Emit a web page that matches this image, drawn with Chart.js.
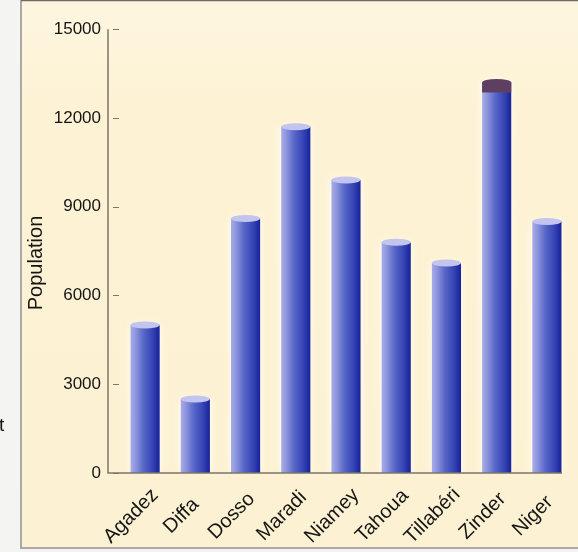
<!DOCTYPE html>
<html>
<head>
<meta charset="utf-8">
<script src="https://cdn.jsdelivr.net/npm/chart.js@4/dist/chart.umd.min.js"></script>
<style>
  html, body { margin: 0; padding: 0; background: #f4f4f2; }
  #wrap { width: 578px; height: 552px; position: relative; }
</style>
</head>
<body>
<div id="wrap"><canvas id="popChart"></canvas></div>
<script>
// regions and their population
const regions = ["Agadez", "Diffa", "Dosso", "Maradi", "Niamey", "Tahoua", "Tillabéri", "Zinder", "Niger"];
const population = [5000, 2500, 8600, 11700, 9900, 7800, 7100, 13200, 8500];
const yTicks = [0, 3000, 6000, 9000, 12000, 15000];
const yTitle = "Population";

// bar top caps (Zinder has the dark one)
const LIGHT_CAP = "#c3c5ee";
const capColors = [LIGHT_CAP, LIGHT_CAP, LIGHT_CAP, LIGHT_CAP, LIGHT_CAP, LIGHT_CAP, LIGHT_CAP, "#5e3f62", LIGHT_CAP];

const BAR_PCT = 0.58;
const AXIS_X = 108;
const FONT = "'Liberation Sans', Arial, sans-serif";
const TEXT = "#151515";

function barFill(ctx) {
  const chart = ctx.chart;
  const xs = chart.scales.x;
  if (!xs || !chart.chartArea) return "#4a58c0";
  const cx = xs.getPixelForValue(ctx.dataIndex);
  const w = (xs.width / regions.length) * BAR_PCT;
  const g = chart.ctx.createLinearGradient(cx - w / 2, 0, cx + w / 2, 0);
  g.addColorStop(0, "#a8acea");
  g.addColorStop(0.18, "#8c94dc");
  g.addColorStop(0.45, "#5766c8");
  g.addColorStop(0.75, "#3645b4");
  g.addColorStop(1, "#17229a");
  return g;
}

const panelPlugin = {
  id: "panel",
  beforeDraw(chart) {
    const c = chart.ctx;
    c.save();
    c.fillStyle = "#f4f4f2";
    c.fillRect(0, 0, chart.width, chart.height);
    const bg = c.createLinearGradient(0, 0, 0, 548);
    bg.addColorStop(0, "#fdf6df");
    bg.addColorStop(0.2, "#fdf2d4");
    bg.addColorStop(1, "#fcf1d2");
    c.fillStyle = bg;
    c.fillRect(21, 1, chart.width - 21, 547);
    c.strokeStyle = "#a9a9a6";
    c.lineWidth = 2;
    c.beginPath();
    c.moveTo(21, 0); c.lineTo(21, 548); c.lineTo(chart.width, 548);
    c.stroke();
    c.strokeStyle = "#6d6a62";
    c.lineWidth = 1.5;
    c.beginPath();
    c.moveTo(21, 0.5); c.lineTo(chart.width, 0.5);
    c.stroke();
    c.restore();
  },
  beforeDatasetsDraw(chart) {
    const c = chart.ctx;
    c.save();
    c.shadowColor = "rgba(255,255,250,0.95)";
    c.shadowBlur = 8;
  },
  afterDatasetsDraw(chart) {
    const c = chart.ctx;
    c.restore();
    // caps on top of the bars
    const meta = chart.getDatasetMeta(0);
    meta.data.forEach((bar, i) => {
      const w = bar.width;
      c.save();
      if (capColors[i] !== LIGHT_CAP) {
        c.fillStyle = capColors[i];
        c.fillRect(bar.x - w / 2, bar.y, w, 10);
      }
      c.fillStyle = capColors[i];
      c.beginPath();
      c.ellipse(bar.x, bar.y, w / 2, 3.5, 0, 0, Math.PI * 2);
      c.fill();
      c.restore();
    });
  },
  afterDraw(chart) {
    const c = chart.ctx;
    const ys = chart.scales.y;
    const xs = chart.scales.x;
    const y0 = ys.getPixelForValue(0);
    const yTop = ys.getPixelForValue(15000);
    c.save();
    // axis lines
    c.strokeStyle = "#7b766b";
    c.lineWidth = 1.5;
    c.beginPath();
    c.moveTo(AXIS_X, yTop);
    c.lineTo(AXIS_X, y0);
    c.lineTo(xs.right - 10, y0);
    c.stroke();
    // small tick dashes
    c.lineWidth = 1;
    yTicks.forEach(v => {
      const py = Math.round(ys.getPixelForValue(v)) + 0.5;
      c.beginPath();
      c.moveTo(AXIS_X + 5, py);
      c.lineTo(AXIS_X + 11, py);
      c.stroke();
    });
    // axis title
    c.fillStyle = TEXT;
    c.font = "20px " + FONT;
    c.textAlign = "center";
    c.textBaseline = "middle";
    c.save();
    c.translate(36, 263);
    c.rotate(-Math.PI / 2);
    c.fillText(yTitle, 0, 0);
    c.restore();
    // category labels, rotated and centred
    c.font = "20px " + FONT;
    regions.forEach((name, i) => {
      c.save();
      c.translate(xs.getPixelForValue(i) - 14, y0 + 43);
      c.rotate(-Math.PI / 4);
      c.fillText(name, 0, 0);
      c.restore();
    });
    // stray letter at the page edge
    c.font = "19px " + FONT;
    c.textAlign = "left";
    c.fillText("t", -1, 426);
    c.restore();
  }
};

const chart = new Chart(document.getElementById("popChart"), {
  type: "bar",
  data: {
    labels: regions,
    datasets: [{
      data: population,
      backgroundColor: barFill,
      borderWidth: 0,
      barPercentage: 1,
      categoryPercentage: BAR_PCT
    }]
  },
  options: {
    responsive: true,
    maintainAspectRatio: false,
    animation: false,
    events: [],
    layout: { padding: { top: 22, right: 6, bottom: 0, left: 0 } },
    plugins: { legend: { display: false }, tooltip: { enabled: false } },
    scales: {
      x: {
        grid: { display: false, drawTicks: false },
        border: { display: false },
        ticks: { display: false },
        afterFit: s => { s.height = 79; }
      },
      y: {
        min: 0,
        max: 15000,
        afterBuildTicks: s => { s.ticks = yTicks.map(v => ({ value: v })); },
        grid: { display: false, drawTicks: false },
        border: { display: false },
        ticks: {
          padding: 19,
          color: TEXT,
          font: { family: FONT, size: 17 },
          callback: v => String(v)
        },
        afterFit: s => { s.width = 120; }
      }
    }
  },
  plugins: [panelPlugin]
});
</script>
</body>
</html>
